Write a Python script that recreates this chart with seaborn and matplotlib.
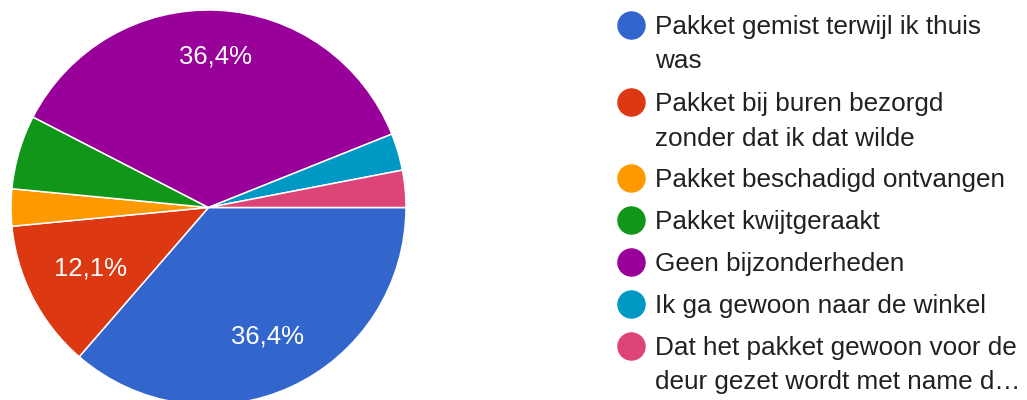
import matplotlib
matplotlib.use("Agg")
import matplotlib.pyplot as plt
import numpy as np
import seaborn as sns

# survey answers (33 responses)
labels = ["Pakket gemist terwijl ik thuis was",
          "Pakket bij buren bezorgd zonder dat ik dat wilde",
          "Pakket beschadigd ontvangen",
          "Pakket kwijtgeraakt",
          "Geen bijzonderheden",
          "Ik ga gewoon naar de winkel",
          "Dat het pakket gewoon voor de deur gezet wordt met name d…"]
counts = [12, 4, 1, 2, 12, 1, 1]
legend_lines = [["Pakket gemist terwijl ik thuis", "was"],
                ["Pakket bij buren bezorgd", "zonder dat ik dat wilde"],
                ["Pakket beschadigd ontvangen"],
                ["Pakket kwijtgeraakt"],
                ["Geen bijzonderheden"],
                ["Ik ga gewoon naar de winkel"],
                ["Dat het pakket gewoon voor de", "deur gezet wordt met name d…"]]
colors = ["#3366cc", "#dc3912", "#ff9900", "#109618", "#990099", "#0099c6", "#dd4477"]

sns.set_theme(style="white")
plt.rcParams['font.family'] = ['Liberation Sans', 'DejaVu Sans']

W, H = 1027, 400
fig = plt.figure(figsize=(W / 100, H / 100), dpi=100)
fig.patch.set_facecolor("white")

# pie centre ~ (208.5, 207.5) px, radius ~197.5 px
cx, cy, r = 208.5, 207.5, 197.5
ax = fig.add_axes([(cx - r) / W, (H - cy - r) / H, 2 * r / W, 2 * r / H])


def pct(p):
    if p < 10:
        return ""
    return f"{p:.1f}%".replace(".", ",")


wedges, texts, autotexts = ax.pie(counts, colors=colors, startangle=0, counterclock=False,
                                  autopct=pct, pctdistance=0.72, radius=1,
                                  wedgeprops=dict(edgecolor="white", linewidth=1.1))
# label distance from centre per slice (google-ish placement)
label_dist = [0.72, 0.675, 0.72, 0.72, 0.765, 0.72, 0.72]
for w, t, d in zip(wedges, autotexts, label_dist):
    t.set_color("white")
    t.set_fontsize(18.5)
    mid = np.deg2rad((w.theta1 + w.theta2) / 2)
    t.set_position((d * np.cos(mid), d * np.sin(mid)))
ax.set_xlim(-1, 1)
ax.set_ylim(-1, 1)
ax.set_aspect("equal")
ax.axis("off")

# legend drawn by hand so the dot sits on the first line
baselines = [34, 111, 187, 228.6, 270.7, 312.8, 355]
line_gap = 34.5
for lines, col, base in zip(legend_lines, colors, baselines):
    fig.lines.append(plt.Line2D([631 / W], [1 - (base - 9) / H], marker="o", markersize=19.5,
                                color=col, transform=fig.transFigure, linestyle="none"))
    for i, line in enumerate(lines):
        fig.text(655 / W, 1 - (base + i * line_gap) / H, line, fontsize=18.8,
                 color="#212121", va="baseline", ha="left")

fig.savefig("out.png", dpi=100)
